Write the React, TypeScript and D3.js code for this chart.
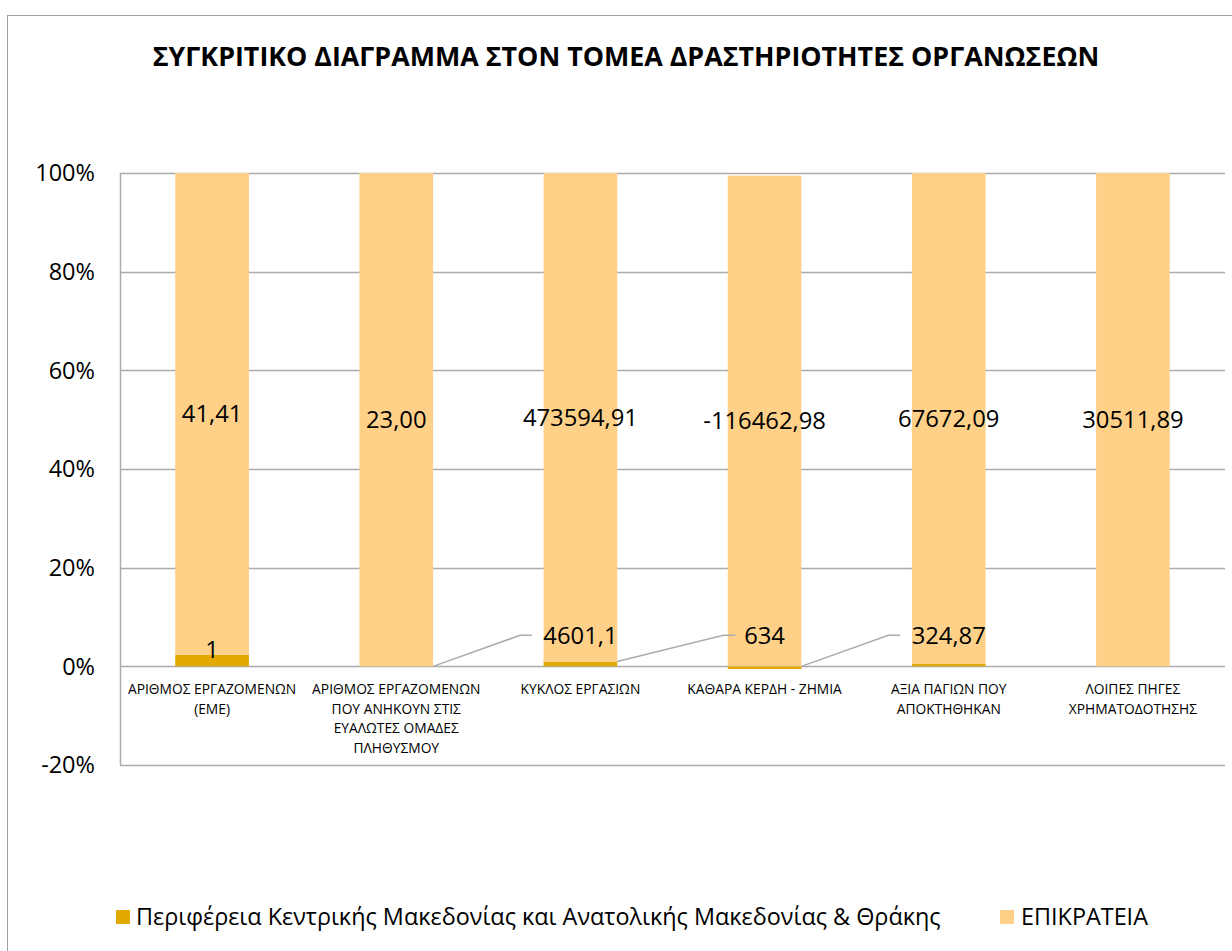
import * as d3 from "d3"

const title = "ΣΥΓΚΡΙΤΙΚΟ ΔΙΑΓΡΑΜΜΑ ΣΤΟΝ ΤΟΜΕΑ ΔΡΑΣΤΗΡΙΟΤΗΤΕΣ ΟΡΓΑΝΩΣΕΩΝ"

// category labels, already broken into lines as in the original
const categories = [
  ["ΑΡΙΘΜΟΣ ΕΡΓΑΖΟΜΕΝΩΝ", "(ΕΜΕ)"],
  ["ΑΡΙΘΜΟΣ ΕΡΓΑΖΟΜΕΝΩΝ", "ΠΟΥ ΑΝΗΚΟΥΝ ΣΤΙΣ", "ΕΥΑΛΩΤΕΣ ΟΜΑΔΕΣ", "ΠΛΗΘΥΣΜΟΥ"],
  ["ΚΥΚΛΟΣ ΕΡΓΑΣΙΩΝ"],
  ["ΚΑΘΑΡΑ ΚΕΡΔΗ - ΖΗΜΙΑ"],
  ["ΑΞΙΑ ΠΑΓΙΩΝ ΠΟΥ", "ΑΠΟΚΤΗΘΗΚΑΝ"],
  ["ΛΟΙΠΕΣ ΠΗΓΕΣ", "ΧΡΗΜΑΤΟΔΟΤΗΣΗΣ"],
]

const seriesNames = ["Περιφέρεια Κεντρικής Μακεδονίας και Ανατολικής Μακεδονίας & Θράκης", "ΕΠΙΚΡΑΤΕΙΑ"]

// plotted values (the region bar of the 4th column sits below zero in the original)
const regionValues = [1, 0, 4601.1, -634, 324.87, 0]
const stateValues = [41.41, 23.0, 473594.91, 116462.98, 67672.09, 30511.89]

// the data labels as printed in the chart
const regionLabels = ["1", "", "4601,1", "634", "324,87", ""]
const stateLabels = ["41,41", "23,00", "473594,91", "-116462,98", "67672,09", "30511,89"]
// region labels that were dragged up and carry a leader line from the previous column
const leaderLabels = [2, 3, 4]

const yTicks = [-0.2, 0, 0.2, 0.4, 0.6, 0.8, 1]

const W = 1232
const H = 951
const colors = ["#E2A900", "#FED088"]
const grid = "#ABABAB"
const font = "'Open Sans', sans-serif"

export default function App() {
  const x = d3.scaleBand<number>()
    .domain(d3.range(categories.length))
    .range([120, 1225])
    .paddingInner(0.6)
    .paddingOuter(0.3)
  const y = d3.scaleLinear().domain([-0.2, 1]).range([765, 173])

  // normalise to 100% of the absolute total, then stack diverging
  const rows = regionValues.map((r, i) => {
    const tot = Math.abs(r) + Math.abs(stateValues[i])
    return { region: r / tot, state: stateValues[i] / tot }
  })
  const stacked = d3.stack<any>()
    .keys(["region", "state"])
    .offset(d3.stackOffsetDiverging)(rows)

  const pct = d3.format(".0%")
  const bw = x.bandwidth()
  const labelSize = 23.8

  return (
    <svg width={W} height={H} style={{ position: "absolute", left: 0, top: 0 }} fontFamily={font}>
      <rect x={0} y={0} width={W} height={H} fill="#fff" />
      <rect x={7.5} y={15.5} width={W + 10} height={H + 10} fill="none" stroke="#A0A0A0" strokeWidth={1} />

      <text x={626} y={66} textAnchor="middle" fontSize={26.8} fontWeight="bold" fill="#000">{title}</text>

      {/* gridlines + y labels */}
      {yTicks.map(t => (
        <g key={t}>
          <line x1={120} x2={1225} y1={Math.round(y(t)) + 0.5} y2={Math.round(y(t)) + 0.5} stroke={grid} strokeWidth={1.5} />
          <text x={95} y={y(t)} dy="0.35em" textAnchor="end" fontSize={23.5} fill="#000">{t < 0 ? "-" + pct(-t) : pct(t)}</text>
        </g>
      ))}
      <line x1={120.5} x2={120.5} y1={y(1)} y2={y(-0.2)} stroke={grid} strokeWidth={1.5} />

      {/* bars */}
      {stacked.map((s, si) => (
        <g key={s.key} fill={colors[si]}>
          {s.map((d, i) => (
            <rect key={i} x={x(i)} width={bw}
              y={y(Math.max(d[0], d[1]))}
              height={Math.abs(y(d[0]) - y(d[1]))} />
          ))}
        </g>
      ))}

      {/* state labels centred in segment */}
      {stacked[1].map((d, i) => (
        <text key={i} x={x(i)! + bw / 2} y={(y(d[0]) + y(d[1])) / 2} dy="0.35em"
          textAnchor="middle" fontSize={labelSize} fill="#000">{stateLabels[i]}</text>
      ))}

      {/* region labels */}
      {stacked[0].map((d, i) => {
        if (!regionLabels[i]) return null
        const cx = x(i)! + bw / 2
        if (leaderLabels.includes(i)) {
          const ly = y(0) - 31
          const tw = regionLabels[i].length * 12.8
          const lx = cx - tw / 2
          const prev = stacked[0][i - 1]
          const sx = x(i - 1)! + bw
          const sy = y(prev[1] !== 0 ? (prev[0] < 0 ? prev[0] : prev[1]) : 0)
          return (
            <g key={i}>
              <polyline points={`${sx},${sy} ${lx - 22},${ly} ${lx - 10},${ly}`} fill="none" stroke={grid} strokeWidth={1.5} />
              <text x={cx} y={ly} dy="0.35em" textAnchor="middle" fontSize={labelSize} fill="#000">{regionLabels[i]}</text>
            </g>
          )
        }
        return (
          <text key={i} x={cx} y={(y(d[0]) + y(d[1])) / 2 - 11} dy="0.35em"
            textAnchor="middle" fontSize={labelSize} fill="#000">{regionLabels[i]}</text>
        )
      })}

      {/* category labels */}
      {categories.map((lines, i) => (
        <text key={i} x={x(i)! + bw / 2} y={694} textAnchor="middle" fontSize={13.8} fill="#000">
          {lines.map((l, j) => (
            <tspan key={j} x={x(i)! + bw / 2} dy={j === 0 ? 0 : 19.5}>{l}</tspan>
          ))}
        </text>
      ))}

      {/* legend */}
      <rect x={116} y={910} width={14} height={14} fill={colors[0]} />
      <text x={136} y={917} dy="0.35em" fontSize={23.4} fill="#000">{seriesNames[0]}</text>
      <rect x={1000} y={910} width={14} height={14} fill={colors[1]} />
      <text x={1021} y={917} dy="0.35em" fontSize={23.4} fill="#000">{seriesNames[1]}</text>
    </svg>
  )
}
